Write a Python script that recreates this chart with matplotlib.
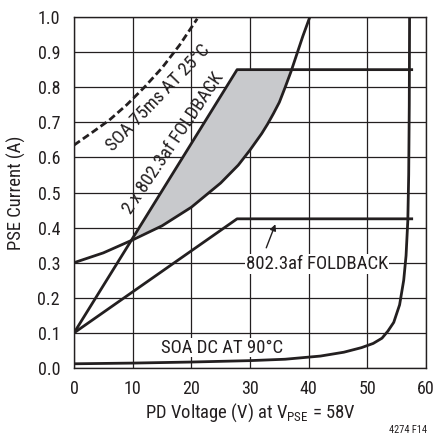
import numpy as np
import matplotlib
matplotlib.use('Agg')
import matplotlib.pyplot as plt

FAMS = ['Roboto Condensed', 'Liberation Sans Narrow', 'Open Sans Condensed', 'Liberation Sans', 'DejaVu Sans']
plt.rcParams['font.family'] = FAMS
plt.rcParams['font.stretch'] = 'condensed'
plt.rcParams['mathtext.fontset'] = 'custom'
plt.rcParams['mathtext.rm'] = 'Roboto Condensed'

INK = '#231f20'

# 2 x 802.3af foldback
fold2_v = [0, 27.8, 57.8]
fold2_i = [0.10, 0.85, 0.85]
# 802.3af foldback
fold1_v = [0, 27.8, 57.8]
fold1_i = [0.10, 0.425, 0.425]
# curve starting at 0.3 A
p_v = [0, 5, 10, 15, 20, 25, 28, 30, 32, 33, 34, 35, 36, 37, 38, 39, 40.2]
p_i = [0.30, 0.328, 0.365, 0.405, 0.458, 0.527, 0.578, 0.621, 0.668, 0.695, 0.725, 0.757, 0.80, 0.845, 0.895, 0.945, 1.0]
# SOA 75ms at 25C (dashed)
soa75_v = [0, 3, 6, 9, 12, 15, 18, 21]
soa75_i = [0.635, 0.67, 0.706, 0.75, 0.80, 0.855, 0.92, 0.995]
# SOA DC at 90C
soadc_v = [0, 10, 20, 30, 36, 42, 46, 49, 51, 52.5, 53.5, 54.5, 55.5, 56.2, 56.6, 56.9, 57.05, 57.15, 57.2]
soadc_i = [0.012, 0.014, 0.017, 0.021, 0.025, 0.034, 0.045, 0.058, 0.07, 0.085, 0.105, 0.13, 0.18, 0.25, 0.32, 0.42, 0.55, 0.75, 1.0]
# shaded region boundaries
shade_top_v = [9.8, 27.8, 37]
shade_top_i = [0.37, 0.85, 0.85]
shade_bot_v = [37, 36, 35, 34, 33, 32, 30, 28, 25, 20, 15, 9.8]
shade_bot_i = [0.845, 0.80, 0.757, 0.725, 0.695, 0.668, 0.621, 0.578, 0.527, 0.458, 0.405, 0.37]

x_ticks = [0, 10, 20, 30, 40, 50, 60]
y_ticks = [0.0, 0.1, 0.2, 0.3, 0.4, 0.5, 0.6, 0.7, 0.8, 0.9, 1.0]

W = H = 438
DPI = 100
fig = plt.figure(figsize=(W / DPI, H / DPI), dpi=DPI)
ax = fig.add_axes([74 / W, 1 - 368 / H, 352 / W, 351 / H])

ax.fill(shade_top_v + shade_bot_v, shade_top_i + shade_bot_i, color='#c8c9cc', zorder=2, lw=0)

lw = 2.0
ax.plot(fold2_v, fold2_i, color=INK, lw=lw, zorder=3, solid_capstyle='butt')
ax.plot(fold1_v, fold1_i, color=INK, lw=lw, zorder=3, solid_capstyle='butt')
ax.plot(p_v, p_i, color=INK, lw=lw, zorder=3)
ax.plot(soa75_v, soa75_i, color=INK, lw=lw, ls=(0, (2.6, 1.3)), zorder=3)
ax.plot(soadc_v, soadc_i, color=INK, lw=lw, zorder=3)

ax.set_xlim(0, 60)
ax.set_ylim(0, 1.0)
ax.set_xticks(x_ticks)
ax.set_yticks(y_ticks)
ax.set_yticklabels(['%.1f' % v for v in y_ticks])
ax.tick_params(length=0, labelsize=13, colors=INK)
ax.tick_params(axis='y', pad=10)
ax.tick_params(axis='x', pad=9)
ax.grid(True, color=INK, lw=0.9, zorder=1)
for s in ax.spines.values():
    s.set_color(INK)
    s.set_linewidth(1.0)

ax.set_xlabel(r'PD Voltage (V) at V$_{\mathrm{PSE}}$ = 58V', fontsize=13.4, color=INK, labelpad=2)
ax.set_ylabel('PSE Current (A)', fontsize=13.4, color=INK, labelpad=8)

box = dict(facecolor='white', edgecolor='none', pad=0.5)
ax.text(14.3, 0.769, 'SOA 75ms AT 25°C', rotation=46, rotation_mode='anchor',
        ha='center', va='center', fontsize=13.3, color=INK, zorder=1.5, bbox=box)
ax.text(16.9, 0.641, '2 x 802.3af FOLDBACK', rotation=56, rotation_mode='anchor',
        ha='center', va='center', fontsize=13.3, color=INK, zorder=1.5, bbox=box)
ax.text(25.3, 0.058, 'SOA DC AT 90°C', ha='center', va='center', fontsize=13.5,
        color=INK, zorder=4, bbox=box)
ax.text(41.4, 0.296, '802.3af FOLDBACK', ha='center', va='center', fontsize=13.5,
        color=INK, zorder=4, bbox=box)
ax.annotate('', xy=(34.5, 0.417), xytext=(32.6, 0.335),
            arrowprops=dict(arrowstyle='-|>', color=INK, lw=1.0,
                            mutation_scale=9), zorder=4)

fig.text(408 / W, 1 - 430 / H, '4274 F14', ha='center', va='center', fontsize=7.5, color=INK)

fig.savefig('out.png', dpi=DPI, facecolor='white')
